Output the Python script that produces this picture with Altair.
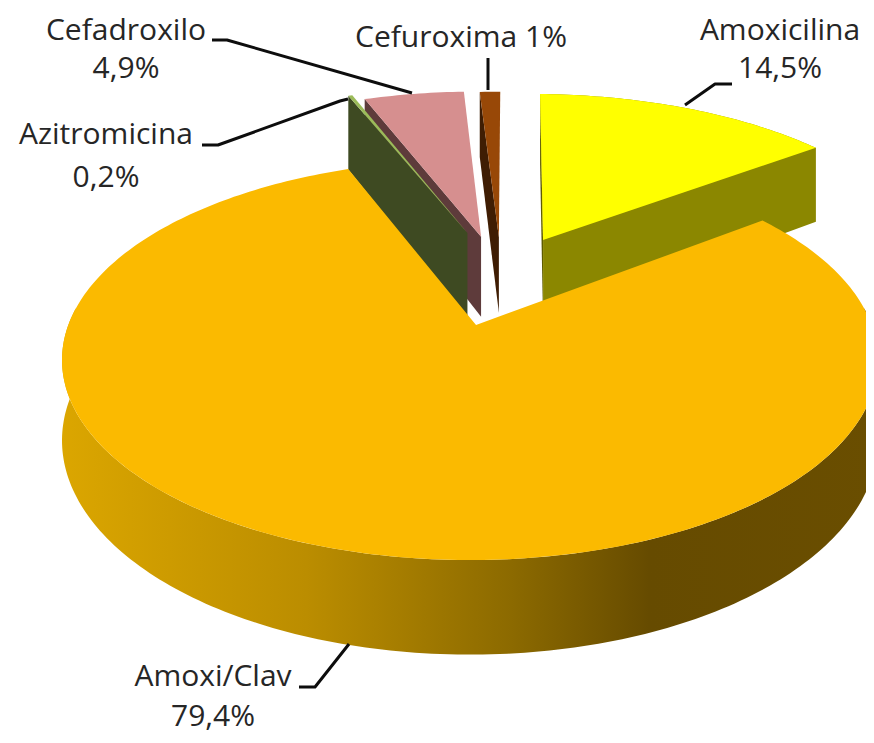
import math
import altair as alt
import pandas as pd

# ---- data ----
names = ["Amoxicilina", "Amoxi/Clav", "Azitromicina", "Cefadroxilo", "Cefuroxima"]
shares = [14.5, 79.4, 0.2, 4.9, 1.0]
top_colors = ["#ffff00", "#fbba00", "#9bbb59", "#d68f8f", "#984807"]
wall_colors = ["#8b8700", None, "#3e4a22", "#5e3b3b", "#3f1d03"]
side_colors = ["#5f5c00", None, "#3e4a22", "#5e3b3b", "#3f1d03"]

label_text = [["Amoxicilina", "14,5%"], ["Amoxi/Clav", "79,4%"], ["Azitromicina", "0,2%"],
              ["Cefadroxilo", "4,9%"], ["Cefuroxima 1%"]]
label_x = [780, 213, 106, 126, 461]
label_y = [[40, 78], [686, 726], [144, 187], [40, 78], [47]]
leaders = [
    [(685, 105), (715, 84), (732, 84)],
    [(299, 687), (315, 687), (349, 644)],
    [(202, 145), (218, 145), (340, 101), (348, 99)],
    [(212, 40), (227, 40), (412, 93)],
    [(488, 58), (488, 90)],
]

# ---- projection of the tilted pie ----
CX, CY = 470.0, 325.0
A, B, K = 401.7, 193.9, 0.175
START = 1.3            # degrees, clockwise from straight back
explode = [(0.197, 0.475), (0, 0), (-0.015, 0.517), (0.022, 0.495), (0.072, 0.493)]
tip_shift = [0, 0.015, 0.008, 0.008, 0.006]
radius = [1.03, 1.0, 1.04, 1.03, 1.03]
thick = [88, 78, 93, 87, 82]


def project(xx, yy, h=0.0):
    d = 1 + K * yy
    return CX + A * xx / d, CY - B * yy / d + h / d


def ring(i, a, z=0.0):
    ex, ey = explode[i]
    t = math.radians(a)
    return project(ex + radius[i] * math.sin(t), ey + radius[i] * math.cos(t), z)


def arc(i, a0, a1, z=0.0):
    n = max(2, int(abs(a1 - a0)) + 2)
    return [ring(i, a0 + (a1 - a0) * j / (n - 1), z) for j in range(n)]


def apex(i, z=0.0):
    return project(explode[i][0] + tip_shift[i], explode[i][1], z)


XS = alt.Scale(domain=[8, 866], nice=False, zero=False)
YS = alt.Scale(domain=[735, 8], nice=False, zero=False)


def poly(pts, fill):
    pts = list(pts) + [pts[0]]
    df = pd.DataFrame({"x": [p[0] for p in pts], "y": [p[1] for p in pts], "i": list(range(len(pts)))})
    return alt.Chart(df).mark_line(fill=fill, stroke=None, strokeWidth=0, clip=True, interpolate="linear").encode(
        x=alt.X("x:Q", scale=XS, axis=None),
        y=alt.Y("y:Q", scale=YS, axis=None),
        order=alt.Order("i:O"),
    )


starts = []
acc = START
for s in shares:
    starts.append(acc)
    acc += s * 3.6
ends = [s + v * 3.6 for s, v in zip(starts, shares)]

layers = []

# Amoxicilina
i = 0
layers.append(poly([ring(i, starts[i]), apex(i), apex(i, thick[i]), ring(i, starts[i], thick[i])], side_colors[i]))
layers.append(poly(arc(i, starts[i], ends[i]) + arc(i, ends[i], starts[i], thick[i])[:1] + [apex(i, thick[i]), apex(i)], wall_colors[i]))
layers.append(poly([apex(i)] + arc(i, starts[i], ends[i]), top_colors[i]))

# Cefuroxima
i = 4
layers.append(poly([ring(i, starts[i]), apex(i), apex(i, thick[i]), ring(i, starts[i], thick[i])], wall_colors[i]))
layers.append(poly([apex(i)] + arc(i, starts[i], ends[i]), top_colors[i]))

# Cefadroxilo
i = 3
layers.append(poly([ring(i, starts[i]), apex(i), apex(i, thick[i]), ring(i, starts[i], thick[i])], wall_colors[i]))
layers.append(poly([apex(i)] + arc(i, starts[i], ends[i]), top_colors[i]))

# Azitromicina
i = 2
layers.append(poly([ring(i, starts[i]), apex(i), apex(i, thick[i]), ring(i, starts[i], thick[i])], wall_colors[i]))
layers.append(poly([apex(i)] + arc(i, starts[i], ends[i]), top_colors[i]))

# Amoxi/Clav : wall with its horizontal shading, then the top
i = 1
shade = alt.Gradient(
    gradient="linear", x1=0, x2=1, y1=0, y2=0,
    stops=[
        alt.GradientStop(offset=0.0, color="#dba600"),
        alt.GradientStop(offset=0.3, color="#bb8d00"),
        alt.GradientStop(offset=0.55, color="#8c6a00"),
        alt.GradientStop(offset=0.72, color="#664b00"),
        alt.GradientStop(offset=1.0, color="#6a4e00"),
    ],
)
layers.append(poly(arc(i, 85, 275) + arc(i, 275, 85, thick[i]), shade))
layers.append(poly([apex(i)] + arc(i, starts[i], ends[i]), top_colors[i]))

# leader lines
for n, pts in enumerate(leaders):
    df = pd.DataFrame({"x": [p[0] for p in pts], "y": [p[1] for p in pts], "i": list(range(len(pts)))})
    layers.append(alt.Chart(df).mark_line(color="#0d0d0d", strokeWidth=3, strokeCap="butt", strokeJoin="round").encode(
        x=alt.X("x:Q", scale=XS, axis=None), y=alt.Y("y:Q", scale=YS, axis=None), order=alt.Order("i:O")))

# labels
rows = []
for lines, lx, lys in zip(label_text, label_x, label_y):
    for t, ly in zip(lines, lys):
        rows.append({"t": t, "x": lx, "y": ly})
layers.append(alt.Chart(pd.DataFrame(rows)).mark_text(
    font="Open Sans", fontSize=30, color="#262626", align="center", baseline="alphabetic").encode(
    x=alt.X("x:Q", scale=XS, axis=None), y=alt.Y("y:Q", scale=YS, axis=None), text="t:N"))

chart = alt.layer(*layers).properties(
    width=858, height=727, padding=0, autosize=alt.AutoSizeParams(type="none"), background="white"
).configure_view(stroke=None)

chart.save("out.html", embed_options={"renderer": "svg", "actions": False})
